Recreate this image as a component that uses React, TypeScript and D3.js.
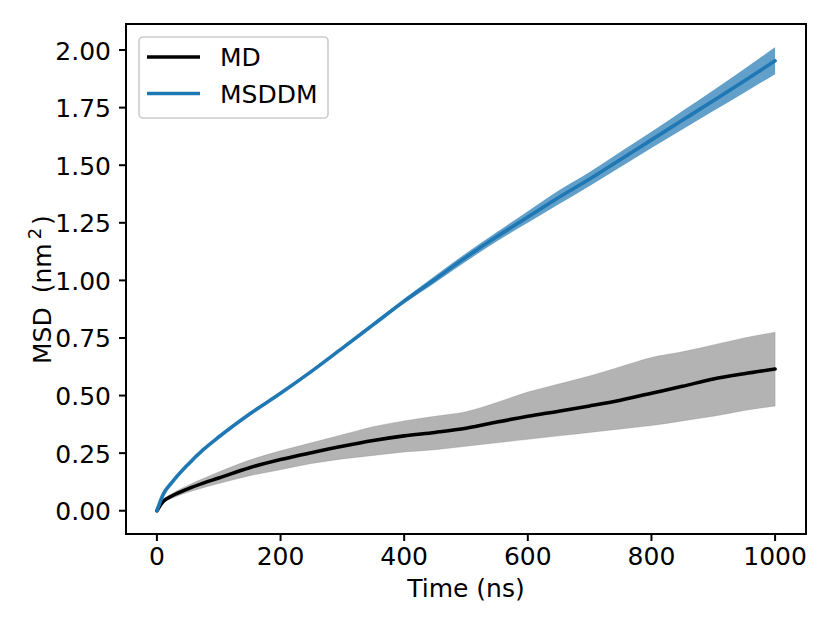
import React from "react";
import * as d3 from "d3";

const WIDTH = 830;
const HEIGHT = 623;
const M = { left: 126, top: 24, right: 806, bottom: 534 };

// time points (ns)
const times = [0, 10, 25, 50, 75, 100, 150, 200, 250, 300, 350, 400, 450, 500, 550, 600, 650, 700, 750, 800, 850, 900, 950, 1000];

// MD mean msd and its band
const mdMean = [0, 0.04, 0.065, 0.095, 0.12, 0.142, 0.187, 0.222, 0.252, 0.28, 0.305, 0.325, 0.34, 0.358, 0.385, 0.41, 0.432, 0.455, 0.48, 0.51, 0.54, 0.572, 0.595, 0.615];
const mdUpper = [0, 0.045, 0.075, 0.11, 0.14, 0.168, 0.22, 0.26, 0.295, 0.33, 0.365, 0.39, 0.41, 0.43, 0.47, 0.515, 0.55, 0.585, 0.625, 0.665, 0.69, 0.72, 0.75, 0.775];
const mdLower = [0, 0.035, 0.055, 0.08, 0.1, 0.118, 0.152, 0.178, 0.205, 0.225, 0.24, 0.255, 0.265, 0.28, 0.295, 0.31, 0.325, 0.34, 0.355, 0.37, 0.39, 0.41, 0.435, 0.455];

// MSDDM mean and its band
const dmMean = [0, 0.07, 0.125, 0.2, 0.265, 0.32, 0.42, 0.51, 0.605, 0.706, 0.808, 0.91, 1.005, 1.1, 1.19, 1.275, 1.36, 1.44, 1.525, 1.61, 1.695, 1.78, 1.866, 1.953];
const dmUpper = [0, 0.071, 0.127, 0.203, 0.268, 0.323, 0.423, 0.514, 0.61, 0.712, 0.816, 0.92, 1.02, 1.118, 1.21, 1.3, 1.39, 1.47, 1.558, 1.645, 1.735, 1.825, 1.918, 2.012];
const dmLower = [0, 0.069, 0.123, 0.197, 0.262, 0.317, 0.417, 0.506, 0.6, 0.7, 0.8, 0.9, 0.99, 1.082, 1.17, 1.25, 1.33, 1.41, 1.492, 1.575, 1.655, 1.735, 1.815, 1.895];

const xTicks = [0, 200, 400, 600, 800, 1000];
const yTicks = [0, 0.25, 0.5, 0.75, 1.0, 1.25, 1.5, 1.75, 2.0];

const FONT = "'DejaVu Sans', sans-serif";
const FS = 25;

export default function App() {
  const x = d3.scaleLinear().domain([-50, 1050]).range([M.left, M.right]);
  const y = d3.scaleLinear().domain([-0.101, 2.113]).range([M.bottom, M.top]);

  const idx = d3.range(times.length);
  const area = (lo: number[], hi: number[]) =>
    d3.area<number>().x(i => x(times[i])).y0(i => y(lo[i])).y1(i => y(hi[i])).curve(d3.curveMonotoneX)(idx) || "";
  const line = (v: number[]) =>
    d3.line<number>().x(i => x(times[i])).y(i => y(v[i])).curve(d3.curveMonotoneX)(idx) || "";

  return (
    <svg width={WIDTH} height={HEIGHT} style={{ display: "block", position: "absolute", left: 0, top: 0, fontFamily: FONT }}>
      <rect width={WIDTH} height={HEIGHT} fill="white" />
      <defs>
        <clipPath id="plot">
          <rect x={M.left} y={M.top} width={M.right - M.left} height={M.bottom - M.top} />
        </clipPath>
      </defs>
      <g clipPath="url(#plot)">
        <path d={area(mdLower, mdUpper)} fill="#808080" fillOpacity={0.6} stroke="#808080" strokeOpacity={0.3} strokeWidth={1} />
        <path d={area(dmLower, dmUpper)} fill="#1f77b4" fillOpacity={0.7} />
        <path d={line(mdMean)} fill="none" stroke="black" strokeWidth={3.6} strokeLinejoin="round" strokeLinecap="round" />
        <path d={line(dmMean)} fill="none" stroke="#1f77b4" strokeWidth={3.6} strokeLinejoin="round" strokeLinecap="round" />
      </g>

      <rect x={M.left} y={M.top} width={M.right - M.left} height={M.bottom - M.top} fill="none" stroke="black" strokeWidth={2} />

      {xTicks.map(t => (
        <g key={t}>
          <line x1={x(t)} x2={x(t)} y1={M.bottom} y2={M.bottom + 7} stroke="black" strokeWidth={2} />
          <text x={x(t)} y={565} textAnchor="middle" style={{ fontSize: FS }}>{t}</text>
        </g>
      ))}
      {yTicks.map(t => (
        <g key={t}>
          <line x1={M.left - 7} x2={M.left} y1={y(t)} y2={y(t)} stroke="black" strokeWidth={2} />
          <text x={111} y={y(t) + 9.5} textAnchor="end" style={{ fontSize: FS }}>{t.toFixed(2)}</text>
        </g>
      ))}

      <text x={(M.left + M.right) / 2} y={597} textAnchor="middle" style={{ fontSize: FS }}>Time (ns)</text>
      <text transform={`translate(51, 364) rotate(-90)`} textAnchor="start" style={{ fontSize: FS }}>
        MSD<tspan dx={14}>(nm</tspan>
        <tspan dx={4} dy={-10} style={{ fontSize: 18 }}>2</tspan>
        <tspan dx={3} dy={10}>)</tspan>
      </text>

      <g>
        <rect x={139} y={37} width={189} height={81} rx={4} fill="white" fillOpacity={0.8} stroke="#cccccc" strokeWidth={1.6} />
        <line x1={147} x2={200} y1={57} y2={57} stroke="black" strokeWidth={3.6} />
        <text x={220} y={66} style={{ fontSize: FS }}>MD</text>
        <line x1={147} x2={200} y1={93.5} y2={93.5} stroke="#1f77b4" strokeWidth={3.6} />
        <text x={220} y={102.5} style={{ fontSize: FS }}>MSDDM</text>
      </g>
    </svg>
  );
}
